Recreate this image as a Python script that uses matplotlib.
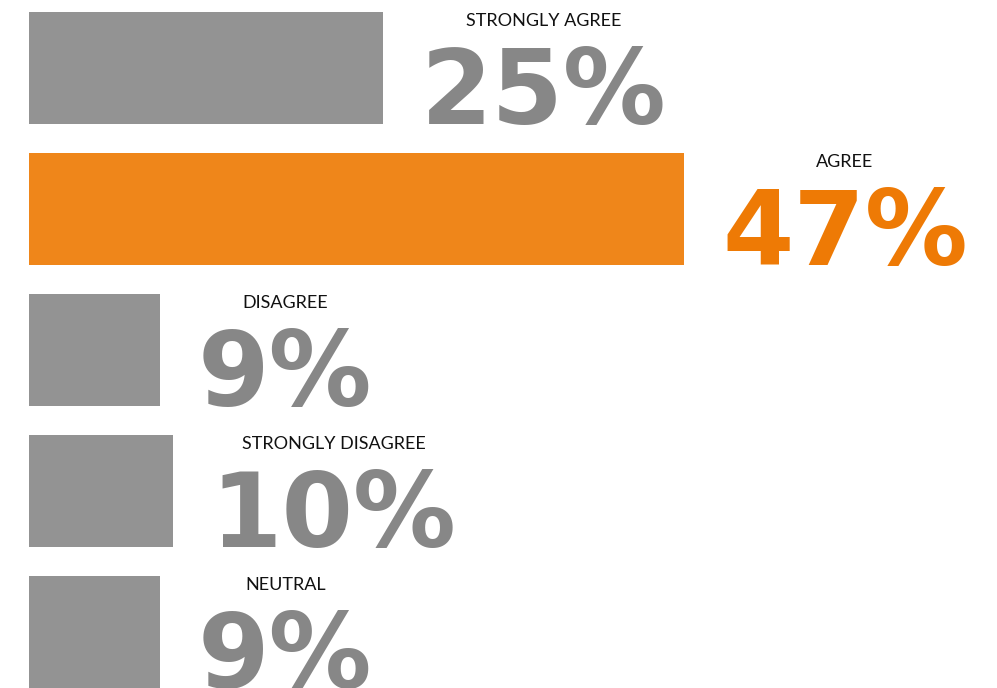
import matplotlib
matplotlib.use("Agg")
import matplotlib.pyplot as plt
from matplotlib.transforms import offset_copy

categories = ["STRONGLY AGREE", "AGREE", "DISAGREE", "STRONGLY DISAGREE", "NEUTRAL"]
values = [25.4, 47.0, 9.4, 10.3, 9.4]
labels = ["25%", "47%", "9%", "10%", "9%"]
highlight = "AGREE"

GREY_BAR = "#939393"
GREY_TXT = "#878787"
ORANGE_BAR = "#EF861A"
ORANGE_TXT = "#EE7A05"

W, H, DPI = 997, 688, 100
fig = plt.figure(figsize=(W / DPI, H / DPI), dpi=DPI)
left = 29 / W
ax = fig.add_axes([left, 0, 1 - left, 1])
px_per_unit = 655 / 47.0
ax.set_xlim(0, (W - 29) / px_per_unit)
spacing = 141.0
ax.set_ylim(4 + (H - 632) / spacing, -68 / spacing)
ax.axis("off")

bar_h = 112 / spacing
ypos = list(range(len(categories)))
colors = [ORANGE_BAR if c == highlight else GREY_BAR for c in categories]
ax.barh(ypos, values, height=bar_h, color=colors, edgecolor="none")

fig.canvas.draw()
renderer = fig.canvas.get_renderer()
for y, v, lab, cat in zip(ypos, values, labels, categories):
    tc = ORANGE_TXT if cat == highlight else GREY_TXT
    tr = offset_copy(ax.transData, fig=fig, x=38 * 72 / DPI, y=0, units="points")
    t = ax.text(v, y + bar_h / 2, lab, transform=tr, ha="left", va="baseline",
                fontsize=74, fontfamily="DejaVu Sans", fontweight="bold", color=tc)
    bb = t.get_window_extent(renderer)
    cx = (bb.x0 + bb.x1) / 2
    ytop_disp = ax.transData.transform((0, y - bar_h / 2))[1]
    fig.text(cx / W, (ytop_disp - 1) / H, cat, ha="center", va="top",
             fontsize=13, fontfamily="Lato", color="#111111")

fig.savefig("out.png", dpi=DPI)
